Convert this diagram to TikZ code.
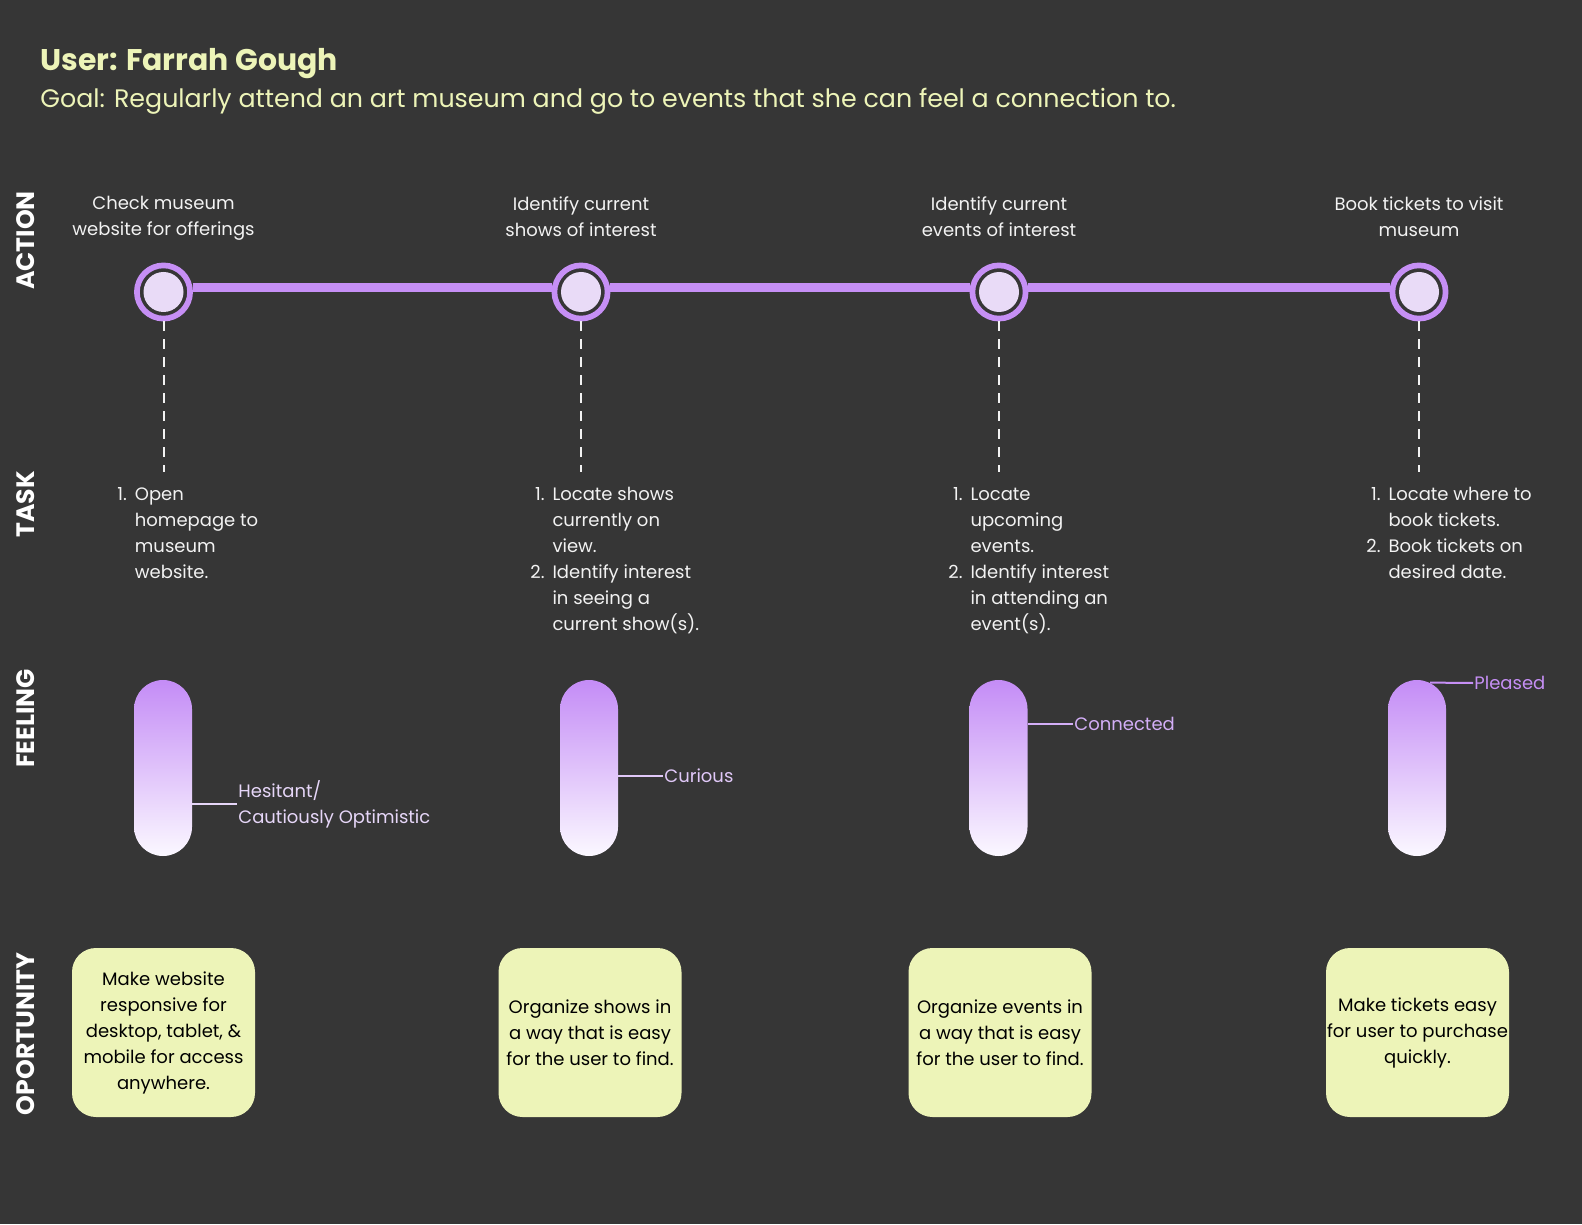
\documentclass[tikz,border=0pt]{standalone}
\usepackage{fontspec}
\setmainfont{Poppins}
\usetikzlibrary{positioning}
\definecolor{bgdark}{HTML}{363636}
\definecolor{lilac}{HTML}{C68FF5}
\definecolor{lilacpale}{HTML}{E9DBF7}
\definecolor{paper}{HTML}{EDF4B8}
\definecolor{inkwhite}{HTML}{F2F2F2}
\definecolor{feeltop}{HTML}{C48CF6}
\definecolor{feelbot}{HTML}{FBF8FF}
\definecolor{moodA}{HTML}{E6D6F8}
\definecolor{moodB}{HTML}{E0C8F8}
\definecolor{moodC}{HTML}{D3AEF7}
\definecolor{moodD}{HTML}{C68FF5}

\begin{document}
\begin{tikzpicture}[
  x=0.5pt, y=-0.5pt,
  rowlabel/.style={rotate=90, font=\fontsize{12.6}{13}\selectfont\bfseries, text=white, inner sep=0pt},
  actlabel/.style={anchor=north, align=center, font=\fontsize{9}{13}\selectfont, text=inkwhite, inner sep=0pt},
  stage/.style={circle, draw=lilac, line width=2.85pt, fill=bgdark, minimum size=26.6pt, inner sep=0pt},
  stagedot/.style={circle, fill=lilacpale, minimum size=20pt, inner sep=0pt},
  tasklist/.style={anchor=north west, font=\fontsize{9}{13}\selectfont, text=inkwhite, inner sep=0pt},
  mood/.style={rounded corners=14.5pt, minimum width=29pt, minimum height=88pt, top color=feeltop, bottom color=feelbot, inner sep=0pt},
  moodtext/.style={anchor=west, align=left, font=\fontsize{9}{13}\selectfont, inner sep=0.5pt},
  idea/.style={rounded corners=12pt, fill=paper, minimum width=91.5pt, minimum height=84.5pt, align=center, font=\fontsize{9}{13}\selectfont, text=black, inner sep=0pt},
  track/.style={draw=lilac, line width=4.5pt},
  drop/.style={draw=inkwhite, line width=1pt, dash pattern=on 5pt off 4pt},
  moodline/.style={line width=1pt}
]
\fill[bgdark] (0,0) rectangle (1582,1224);
\useasboundingbox (0,0) rectangle (1582,1224);

% Header
\node[anchor=base west, font=\fontsize{14.95}{16}\selectfont\bfseries, text=paper, inner sep=0pt] (user) at (40,70.6) {User: Farrah Gough};
\node[anchor=base west, font=\fontsize{12.66}{16}\selectfont, text=paper, inner sep=0pt] (goal) at (40,108)
  {Goal: Regularly attend an art museum and go to events that she can feel a connection to.};

% Row labels
\node[rowlabel] (lblaction) at (25.5,240.5) {ACTION};
\node[rowlabel] (lbltask) at (25.5,504.5) {TASK};
\node[rowlabel] (lblfeel) at (25.5,718.5) {FEELING};
\node[rowlabel] (lblopp) at (25.5,1034) {OPORTUNITY};

% Row 1: actions on the timeline
\node[actlabel] (actlbl1) at (163.5,196) {Check museum\\website for offerings};
\node[actlabel] (actlbl2) at (581,196) {Identify current\\shows of interest};
\node[actlabel] (actlbl3) at (999,196) {Identify current\\events of interest};
\node[actlabel] (actlbl4) at (1419,196) {Book tickets to visit\\museum};

\node[stage] (act1) at (163.5,292) {};
\node[stage] (act2) at (581,292) {};
\node[stage] (act3) at (999,292) {};
\node[stage] (act4) at (1419,292) {};
\node[stagedot] (dot1) at (act1) {};
\node[stagedot] (dot2) at (act2) {};
\node[stagedot] (dot3) at (act3) {};
\node[stagedot] (dot4) at (act4) {};

\draw[track] ([yshift=2pt]act1.east) -- ([yshift=2pt]act2.west);
\draw[track] ([yshift=2pt]act2.east) -- ([yshift=2pt]act3.west);
\draw[track] ([yshift=2pt]act3.east) -- ([yshift=2pt]act4.west);

% Row 2: tasks, hanging off the timeline
\coordinate (end1) at (163.5,472);
\coordinate (end2) at (581,472);
\coordinate (end3) at (999,472);
\coordinate (end4) at (1419,472);
\draw[drop] (act1.south) -- (end1);
\draw[drop] (act2.south) -- (end2);
\draw[drop] (act3.south) -- (end3);
\draw[drop] (act4.south) -- (end4);

\node[tasklist] (task1) at (117,482) {\begin{tabular}{@{}r@{\hspace{4pt}}l@{}}
  1. & Open\\ & homepage to\\ & museum\\ & website.\end{tabular}};
\node[tasklist] (task2) at (530,482) {\begin{tabular}{@{}r@{\hspace{4pt}}l@{}}
  1. & Locate shows\\ & currently on\\ & view.\\
  2. & Identify interest\\ & in seeing a\\ & current show(s).\end{tabular}};
\node[tasklist] (task3) at (948,482) {\begin{tabular}{@{}r@{\hspace{4pt}}l@{}}
  1. & Locate\\ & upcoming\\ & events.\\
  2. & Identify interest\\ & in attending an\\ & event(s).\end{tabular}};
\node[tasklist] (task4) at (1366,482) {\begin{tabular}{@{}r@{\hspace{4pt}}l@{}}
  1. & Locate where to\\ & book tickets.\\
  2. & Book tickets on\\ & desired date.\end{tabular}};

% Row 3: feeling bars
\node[mood] (feel1) at (163,768) {};
\node[mood] (feel2) at (589,768) {};
\node[mood] (feel3) at (998.5,768) {};
\node[mood] (feel4) at (1417,768) {};

\node[moodtext, text=moodA] (hesitant) at (237,804) {Hesitant/\\Cautiously Optimistic};
\node[moodtext, text=moodB] (curious) at (663,776) {Curious};
\node[moodtext, text=moodC] (connected) at (1073,724) {Connected};
\node[moodtext, text=moodD] (pleased) at (1473,683) {Pleased};

\draw[moodline, moodA] (hesitant.west) -- (hesitant.west -| feel1.east);
\draw[moodline, moodB] (curious.west) -- (curious.west -| feel2.east);
\draw[moodline, moodC] (connected.west) -- (connected.west -| feel3.east);
\draw[moodline, moodD] (pleased.west) -- ([xshift=6.5pt,yshift=-1.5pt]feel4.north);

% Row 4: opportunities
\node[idea] (opp1) at (163.5,1032.5) {Make website\\responsive for\\desktop, tablet, \&\\mobile for access\\anywhere.};
\node[idea] (opp2) at (590,1032.5) {Organize shows in\\a way that is easy\\for the user to find.};
\node[idea] (opp3) at (1000,1032.5) {Organize events in\\a way that is easy\\for the user to find.};
\node[idea] (opp4) at (1417.5,1032.5) {Make tickets easy\\for user to purchase\\quickly.};
\end{tikzpicture}
\end{document}
